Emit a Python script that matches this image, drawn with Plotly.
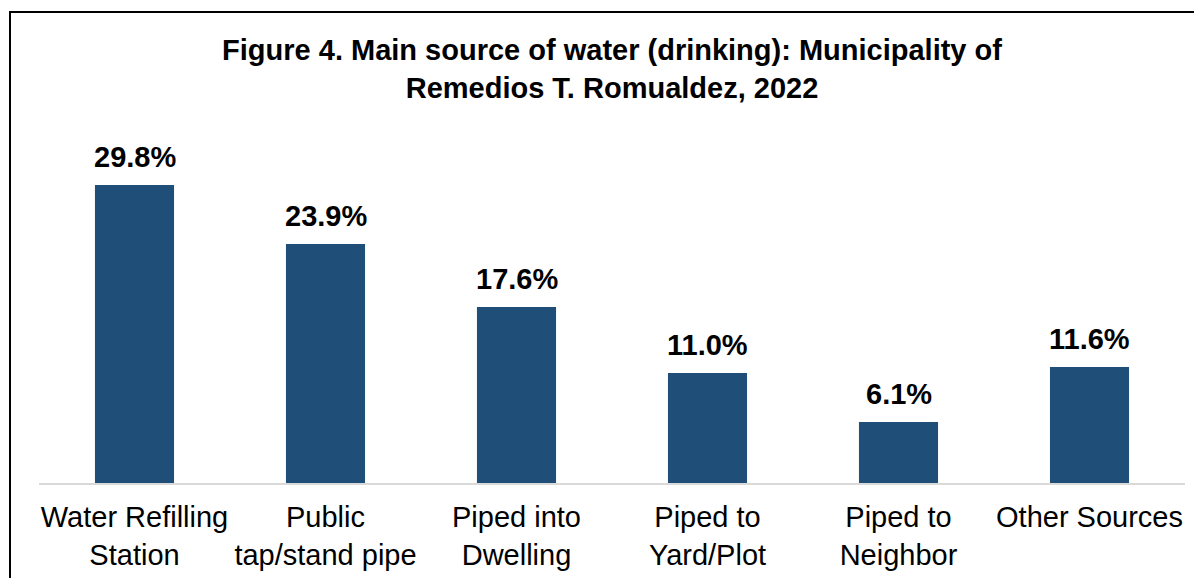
import plotly.graph_objects as go

# Main source of drinking water, Remedios T. Romualdez, 2022
categories = ["Water Refilling<br>Station", "Public<br>tap/stand pipe", "Piped into<br>Dwelling",
              "Piped to<br>Yard/Plot", "Piped to<br>Neighbor", "Other Sources"]
shares = [29.8, 23.9, 17.6, 11.0, 6.1, 11.6]

font_family = "Liberation Sans, Arial, sans-serif"
bar_color = "#1F4E79"

# the page body adds an 8px margin, so the figure is drawn 8px smaller
W, H = 1194, 570

fig = go.Figure(go.Bar(x=categories, y=shares, marker_color=bar_color, marker_line_width=0))

# Value labels above the bars
for cat, val in zip(categories, shares):
    fig.add_annotation(x=cat, y=val, text=f"<b>{val:.1f}%</b>", showarrow=False,
                       yanchor="bottom", yshift=10,
                       font=dict(family=font_family, size=29, color="black"))

# Frame around the chart (only top and left edges are visible)
fig.add_shape(type="rect", xref="paper", yref="paper",
              x0=-29 / 1146, x1=1.05, y0=-0.4, y1=471 / 320,
              line=dict(color="black", width=2))

fig.update_layout(
    width=W,
    height=H,
    margin=dict(l=31, r=17, t=155, b=95, autoexpand=False),
    paper_bgcolor="white",
    plot_bgcolor="white",
    bargap=0.586,
    showlegend=False,
    title=dict(
        text="<b>Figure 4. Main source of water (drinking): Municipality of<br>Remedios T. Romualdez, 2022</b>",
        x=0.5, xref="paper", xanchor="center",
        y=1 - 52 / H, yref="container", yanchor="top",
        font=dict(family=font_family, size=29, color="black"),
    ),
    font=dict(family=font_family, size=29, color="black"),
)
fig.update_xaxes(showline=True, linecolor="#D9D9D9", linewidth=2, ticks="", automargin=False,
                 tickfont=dict(size=29, color="black"), ticklabelstandoff=7)
fig.update_yaxes(range=[0, 32], visible=False, showgrid=False, automargin=False)

fig.write_html("out.html")
